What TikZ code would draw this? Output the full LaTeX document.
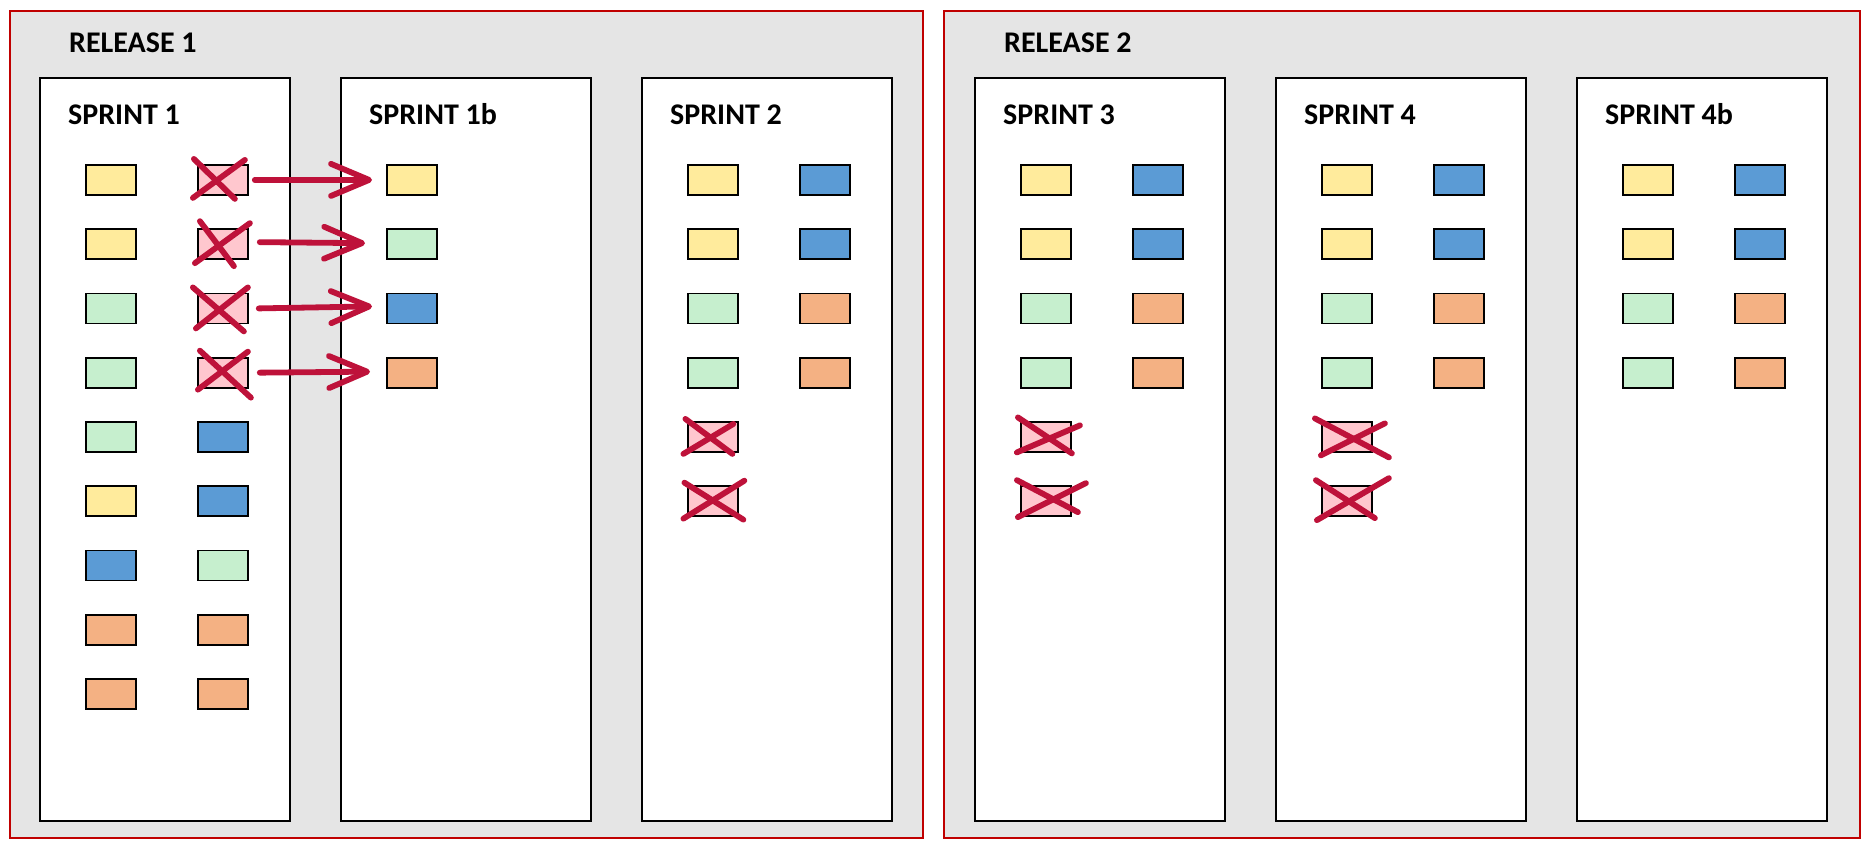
\documentclass[tikz,border=0pt]{standalone}
\usepackage{fontspec}
\setmainfont{Carlito}
\usetikzlibrary{arrows.meta,calc}
\definecolor{bg}{HTML}{E5E5E5}
\definecolor{frame}{HTML}{C00000}
\definecolor{cY}{HTML}{FFEB9C}
\definecolor{cG}{HTML}{C6EFCE}
\definecolor{cB}{HTML}{5B9BD5}
\definecolor{cO}{HTML}{F4B183}
\definecolor{cX}{HTML}{FFC7CE}
\definecolor{ink}{RGB}{190,18,58}
\newcommand\strikeout[9]{%
  \draw[strike] ($(#1.center)+(#2,#3)$) -- ($(#1.center)+(#4,#5)$);
  \draw[strike] ($(#1.center)+(#6,#7)$) -- ($(#1.center)+(#8,#9)$);}
\begin{document}
\begin{tikzpicture}[x=1pt,y=-1pt,
  release/.style={draw=frame,line width=2pt,fill=bg},
  sprintbox/.style={draw=black,line width=2.2pt,fill=white},
  card/.style={draw=black,line width=1.8pt,minimum width=50pt,minimum height=30pt,inner sep=0pt,anchor=north west},
  title/.style={font=\fontsize{30}{36}\selectfont\bfseries,anchor=base west,inner sep=0pt},
  strike/.style={draw=ink,line width=5.8pt,line cap=round},
  move/.style={strike,line join=round,-{Straight Barb[length=38pt,width=32pt,line cap=round,line join=round]}}]
\useasboundingbox (0,0) rectangle (1872,849);
\fill[white] (0,0) rectangle (1872,849);
% releases
\draw[release] (10,11) rectangle (923,838);
\draw[release] (944,11) rectangle (1860,838);
\node[title] (r1) at (69,52) {RELEASE 1};
\node[title] (r2) at (1004,52) {RELEASE 2};
% sprints
\foreach \L/\n/\t in {40/1/SPRINT 1,341/1b/SPRINT 1b,642/2/SPRINT 2,975/3/SPRINT 3,1276/4/SPRINT 4,1577/4b/SPRINT 4b}{
  \draw[sprintbox] (\L,78) rectangle (\L+250,821);
  \node[title] (sp\n) at (\L+28,124) {\t};
}
% sprint 1
\foreach \c [count=\i] in {Y,Y,G,G,G,Y,B,O,O}
  \node[card,fill=c\c] (s1a\i) at (85,{164+64.25*(\i-1)}) {};
\foreach \c [count=\i] in {X,X,X,X,B,B,G,O,O}
  \node[card,fill=c\c] (s1b\i) at (197,{164+64.25*(\i-1)}) {};
% sprint 1b
\foreach \c [count=\i] in {Y,G,B,O}
  \node[card,fill=c\c] (t\i) at (386,{164+64.25*(\i-1)}) {};
% sprint 2,3,4
\foreach \L/\n in {642/2,975/3,1276/4}{
  \foreach \c [count=\i] in {Y,Y,G,G,X,X}
    \node[card,fill=c\c] (s\n a\i) at (\L+45,{164+64.25*(\i-1)}) {};
  \foreach \c [count=\i] in {B,B,O,O}
    \node[card,fill=c\c] (s\n b\i) at (\L+157,{164+64.25*(\i-1)}) {};
}
% sprint 4b
\foreach \c [count=\i] in {Y,Y,G,G}
  \node[card,fill=c\c] (s5a\i) at (1622,{164+64.25*(\i-1)}) {};
\foreach \c [count=\i] in {B,B,O,O}
  \node[card,fill=c\c] (s5b\i) at (1734,{164+64.25*(\i-1)}) {};
% strikes
\strikeout{s1b1}{-29}{-21}{12}{19}{-30}{18}{22}{-20}
\strikeout{s1b2}{-23}{-23}{11}{22}{-28}{19}{27}{-21}
\strikeout{s1b3}{-30}{-21}{21}{23}{-27}{20}{25}{-21}
\strikeout{s1b4}{-23}{-22}{28}{25}{-25}{17}{25}{-21}
\strikeout{s2a5}{-27.5}{-18}{19.5}{17}{-29.5}{17}{20.5}{-13}
\strikeout{s2a6}{-28.5}{-18.5}{30.5}{18.5}{-29.5}{17.5}{31.5}{-20.5}
\strikeout{s3a5}{-28}{-19.5}{26}{16.5}{-29}{15.5}{34}{-11.5}
\strikeout{s3a6}{-29}{-21}{32}{11}{-28}{16}{40}{-18}
\strikeout{s4a5}{-32}{-18.5}{42}{20.5}{-26}{18.5}{38}{-13.5}
\strikeout{s4a6}{-31}{-21}{28}{17}{-30}{19}{42}{-23}
% moves
\draw[move] ($(s1b1.east)+(6,0)$) -- ($(t1.west)+(-14,0)$);
\draw[move] ($(s1b2.east)+(11,-2)$) -- ($(t2.west)+(-21,-1)$);
\draw[move] ($(s1b3.east)+(10,0)$) -- ($(t3.west)+(-14,-2)$);
\draw[move] ($(s1b4.east)+(11,0)$) -- ($(t4.west)+(-16,-1)$);
\end{tikzpicture}
\end{document}
